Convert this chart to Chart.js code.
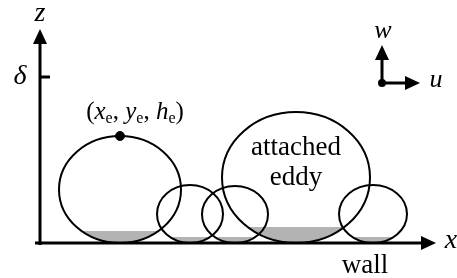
<!DOCTYPE html>
<html>
<head>
<meta charset="utf-8">
<script src="https://cdn.jsdelivr.net/npm/chart.js@4.4.1/dist/chart.umd.min.js"></script>
<style>
  html, body { margin: 0; padding: 0; background: #fff; }
  #wrap { width: 457px; height: 278px; }
</style>
</head>
<body>
<div id="wrap"><canvas id="eddyChart"></canvas></div>
<script>
// eddies, in wall units (x along the wall, z up from the wall)
const eddyNames = ['e1', 'e2', 'e3', 'attached eddy', 'e5'];
const eddyX = [80, 150, 195, 256, 333];
const eddyHeight = [107, 58, 57, 131, 58];
const eddyHalfWidth = [61, 33, 33, 74, 34];
const shadeHeight = [12, 6, 6, 16, 6];

// axes
const deltaZ = 166;
const zAxisTop = 214;
const xAxisEnd = 396;
const xAxisStart = -5;

// marked eddy top (x_e, y_e, h_e)
const markX = [80];
const markZ = [107];

// velocity key
const keyX = 342, keyZ = 160, keyLen = 38;

const serif = '"Liberation Serif", "DejaVu Serif", serif';

const schematic = {
    id: 'schematic',
    beforeDatasetsDraw(chart) {
        const ctx = chart.ctx;
        const sx = chart.scales.x, sy = chart.scales.y;
        const px = v => sx.getPixelForValue(v);
        const py = v => sy.getPixelForValue(v);

        // grey near-wall shading inside each eddy
        ctx.save();
        eddyX.forEach((cx, i) => {
            const h = eddyHeight[i];
            ctx.save();
            ctx.beginPath();
            ctx.ellipse(px(cx), py(h / 2), Math.abs(px(eddyHalfWidth[i]) - px(0)), Math.abs(py(h / 2) - py(0)), 0, 0, Math.PI * 2);
            ctx.clip();
            ctx.fillStyle = '#b3b3b3';
            ctx.fillRect(px(cx - eddyHalfWidth[i]), py(shadeHeight[i]), px(cx + eddyHalfWidth[i]) - px(cx - eddyHalfWidth[i]), py(0) - py(shadeHeight[i]));
            ctx.restore();
        });

        // eddy outlines
        ctx.strokeStyle = '#000';
        ctx.lineWidth = 2;
        eddyX.forEach((cx, i) => {
            const h = eddyHeight[i];
            ctx.beginPath();
            ctx.ellipse(px(cx), py(h / 2), Math.abs(px(eddyHalfWidth[i]) - px(0)), Math.abs(py(h / 2) - py(0)), 0, 0, Math.PI * 2);
            ctx.stroke();
        });

        // axes
        ctx.lineWidth = 3;
        ctx.beginPath();
        ctx.moveTo(px(0), py(-2));
        ctx.lineTo(px(0), py(zAxisTop - 12));
        ctx.moveTo(px(xAxisStart), py(0));
        ctx.lineTo(px(xAxisEnd - 12), py(0));
        ctx.moveTo(px(0), py(deltaZ));
        ctx.lineTo(px(10), py(deltaZ));
        ctx.stroke();

        ctx.fillStyle = '#000';
        const arrowUp = (x, y, len, half) => {
            ctx.beginPath();
            ctx.moveTo(x, y);
            ctx.lineTo(x - half, y + len);
            ctx.lineTo(x + half, y + len);
            ctx.closePath();
            ctx.fill();
        };
        const arrowRight = (x, y, len, half) => {
            ctx.beginPath();
            ctx.moveTo(x, y);
            ctx.lineTo(x - len, y - half);
            ctx.lineTo(x - len, y + half);
            ctx.closePath();
            ctx.fill();
        };
        arrowUp(px(0), py(zAxisTop), 15, 7);
        arrowRight(px(xAxisEnd), py(0), 15, 7);

        // velocity key
        ctx.lineWidth = 3;
        ctx.beginPath();
        ctx.moveTo(px(keyX), py(keyZ));
        ctx.lineTo(px(keyX), py(keyZ + keyLen - 12));
        ctx.moveTo(px(keyX), py(keyZ));
        ctx.lineTo(px(keyX + keyLen - 12), py(keyZ));
        ctx.stroke();
        arrowUp(px(keyX), py(keyZ + keyLen), 15, 7);
        arrowRight(px(keyX + keyLen), py(keyZ), 15, 7);
        ctx.beginPath();
        ctx.arc(px(keyX), py(keyZ), 4, 0, Math.PI * 2);
        ctx.fill();

        // labels
        ctx.textAlign = 'center';
        ctx.textBaseline = 'middle';
        ctx.font = 'italic 28px ' + serif;
        ctx.fillText('z', px(0), 14);
        ctx.fillText('x', px(xAxisEnd) + 15, py(0) - 2);
        ctx.fillText('δ', 20, py(deltaZ));
        ctx.font = 'italic 26px ' + serif;
        ctx.fillText('w', px(keyX) + 1, py(keyZ + keyLen) - 14);
        ctx.fillText('u', px(keyX + keyLen) + 16, py(keyZ) - 3);
        ctx.font = '27px ' + serif;
        ctx.fillText('wall', 365, 266);
        ctx.fillText('attached', px(eddyX[3]), 148);
        ctx.fillText('eddy', px(eddyX[3]), 178);

        // (x_e, y_e, h_e)
        const parts = [['(', 0], ['x', 2], ['e', 1], [', ', 0], ['y', 2], ['e', 1], [', ', 0], ['h', 2], ['e', 1], [')', 0]];
        const fontFor = k => k === 1 ? '16px ' + serif : (k === 2 ? 'italic 25px ' + serif : '25px ' + serif);
        let total = 0;
        parts.forEach(([t, k]) => { ctx.font = fontFor(k); total += ctx.measureText(t).width; });
        let x = px(markX[0]) + 15 - total / 2;
        const base = py(markZ[0]) - 17;
        ctx.textAlign = 'left';
        ctx.textBaseline = 'alphabetic';
        parts.forEach(([t, k]) => {
            ctx.font = fontFor(k);
            ctx.fillText(t, x, k === 1 ? base + 4 : base);
            x += ctx.measureText(t).width;
        });
        ctx.restore();
    }
};

new Chart(document.getElementById('eddyChart'), {
    type: 'scatter',
    data: {
        datasets: [{
            label: '(x_e, y_e, h_e)',
            data: markX.map((v, i) => ({ x: v, y: markZ[i] })),
            backgroundColor: '#000',
            borderColor: '#000',
            pointRadius: 4.5,
            pointHoverRadius: 4.5
        }]
    },
    options: {
        responsive: true,
        maintainAspectRatio: false,
        animation: false,
        layout: { padding: 0, autoPadding: false },
        plugins: { legend: { display: false }, tooltip: { enabled: false } },
        scales: {
            x: { type: 'linear', min: -40, max: 417, display: false },
            y: { type: 'linear', min: -35, max: 243, display: false }
        }
    },
    plugins: [schematic]
});
</script>
</body>
</html>
